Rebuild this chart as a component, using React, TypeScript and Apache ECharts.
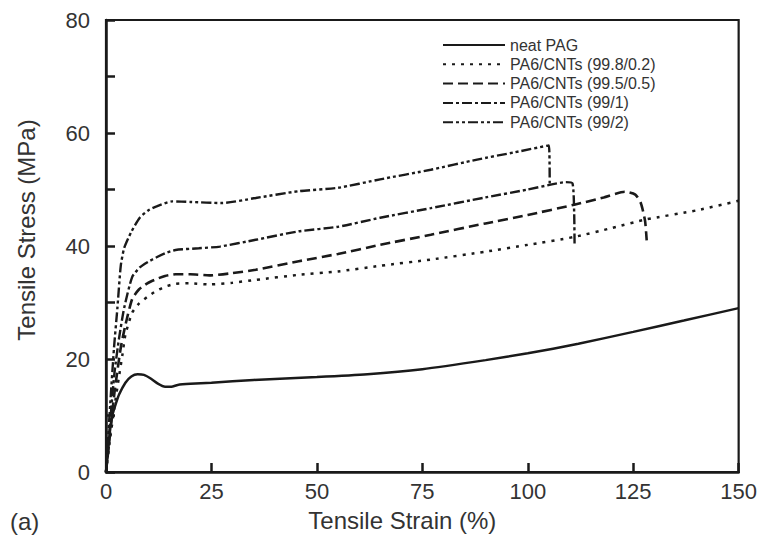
import React, { useEffect, useRef } from "react";
import * as echarts from "echarts";

const seriesNames = [
  "neat PAG",
  "PA6/CNTs (99.8/0.2)",
  "PA6/CNTs (99.5/0.5)",
  "PA6/CNTs (99/1)",
  "PA6/CNTs (99/2)",
];

const strainNeat = [0, 0.4, 0.9, 1.5, 2.3, 3.1, 4.6, 6, 7.5, 9, 10.5, 12.2, 14, 15.5, 17, 20, 25, 35, 50, 62, 75, 90, 100, 112, 125, 137, 150];
const stressNeat = [0, 3, 7, 10, 12, 13.7, 15.8, 16.9, 17.3, 17.2, 16.6, 15.7, 15.1, 15.1, 15.4, 15.6, 15.8, 16.3, 16.8, 17.3, 18.2, 19.8, 21, 22.7, 24.8, 26.8, 29];

const strain02 = [0, 1, 2, 3, 3.9, 4.6, 6.2, 7.8, 9.8, 11.8, 14, 16.5, 20, 24.4, 30, 35.5, 45.7, 55, 65, 77, 90, 100, 111, 120, 128, 140, 150];
const stress02 = [0, 6, 11.5, 16.5, 20.8, 24.3, 28.2, 29.8, 31, 32, 32.8, 33.3, 33.4, 33.2, 33.5, 34, 34.9, 35.5, 36.5, 37.6, 39, 40.2, 41.6, 43.2, 44.7, 46.3, 48];

const strain05 = [0, 1, 2, 3.5, 4.6, 6.2, 7.8, 9.8, 11.8, 14, 16.5, 20, 24.5, 30, 35.5, 45.7, 55, 65, 77, 90, 100, 111, 118, 123, 125.5, 126.8, 127.8, 128.2];
const stress05 = [0, 7, 14, 22, 26, 30.6, 32.3, 33.4, 34.1, 34.7, 35, 35, 34.8, 35.2, 35.8, 37.3, 38.6, 40.2, 42, 44, 45.5, 47.3, 48.6, 49.6, 49.1, 47.6, 44.5, 41];

const strain1 = [0, 1, 2, 3.1, 4.3, 6.2, 8, 10, 12, 14, 16.5, 22, 27, 35.5, 45.7, 55, 65, 77, 90, 100, 105.7, 109, 110.6, 111, 111.1];
const stress1 = [0, 9, 17.5, 23.7, 29, 34.5, 36.2, 37.2, 38, 38.7, 39.3, 39.6, 39.9, 41.1, 42.6, 43.4, 45, 46.7, 48.6, 50, 50.9, 51.3, 51.1, 46, 40];

const strain2 = [0, 1, 1.9, 2.7, 3.5, 4.3, 6, 8, 10, 12, 15.7, 20, 27.5, 35.5, 45.7, 55, 65, 77, 88, 97, 105, 105.2];
const stress2 = [0, 12, 22, 29, 36.5, 39.6, 42.5, 45, 46.3, 47, 47.9, 47.8, 47.6, 48.5, 49.7, 50.3, 51.8, 53.5, 55.3, 56.6, 57.8, 51];

const xTicks = { min: 0, max: 150, interval: 25 };
const yTicks = { min: 0, max: 80, interval: 20 };

const dashes: (number[] | "solid")[] = ["solid", [3, 6], [10, 5], [10, 3, 3, 3], [10, 3, 3, 3, 3, 3]];
const widths = [2.5, 2.5, 2.6, 2.4, 2.4];

const FONT = "'Liberation Sans', Arial, Helvetica, sans-serif";
const INK = "#1a1a1a";
const TXT = "#333";

function pairs(xs: number[], ys: number[]) {
  return xs.map((x, i) => [x, ys[i]]);
}

export default function App() {
  const ref = useRef<HTMLDivElement>(null);
  useEffect(() => {
    if (!ref.current) return;
    const chart = echarts.init(ref.current, undefined, { renderer: "svg" });
    const all = [
      pairs(strainNeat, stressNeat),
      pairs(strain02, stress02),
      pairs(strain05, stress05),
      pairs(strain1, stress1),
      pairs(strain2, stress2),
    ];
    chart.setOption({
      animation: false,
      backgroundColor: "#fff",
      grid: {
        left: 106,
        right: 20,
        top: 20,
        bottom: 63,
        show: true,
        borderColor: INK,
        borderWidth: 2.2,
      },
      legend: {
        orient: "vertical",
        left: 437,
        top: 32,
        itemWidth: 62,
        itemHeight: 14,
        itemGap: 3.3,
        itemStyle: { color: "rgba(0,0,0,0)", borderWidth: 0, opacity: 0 },
        textStyle: { fontFamily: FONT, fontSize: 16, color: TXT },
        data: seriesNames,
      },
      xAxis: {
        type: "value",
        min: xTicks.min,
        max: xTicks.max,
        interval: xTicks.interval,
        name: "Tensile Strain (%)",
        nameLocation: "middle",
        nameGap: 36,
        nameTextStyle: { fontFamily: FONT, fontSize: 24, color: TXT, padding: [0, 40, 0, 0] },
        axisLine: { lineStyle: { color: INK, width: 2.5 } },
        axisTick: { inside: true, length: 9, lineStyle: { color: INK, width: 2.5 } },
        axisLabel: { fontFamily: FONT, fontSize: 22, color: TXT, margin: 8 },
        splitLine: { show: false },
      },
      yAxis: {
        type: "value",
        min: yTicks.min,
        max: yTicks.max,
        interval: yTicks.interval,
        name: "Tensile Stress (MPa)",
        nameLocation: "middle",
        nameGap: 68,
        nameTextStyle: { fontFamily: FONT, fontSize: 24, color: TXT, padding: [0, 0, 0, 32] },
        axisLine: { lineStyle: { color: INK, width: 2.5 } },
        axisTick: { inside: true, length: 9, lineStyle: { color: INK, width: 2.5 } },
        minorTick: { show: true, splitNumber: 2, length: 9, lineStyle: { color: INK, width: 2.5 } },
        axisLabel: { fontFamily: FONT, fontSize: 22, color: TXT, margin: 16 },
        splitLine: { show: false },
        minorSplitLine: { show: false },
      },
      graphic: [
        {
          type: "text",
          left: 10,
          top: 509,
          style: { text: "(a)", fontFamily: FONT, fontSize: 24, fill: TXT },
        },
      ],
      series: seriesNames.map((name, i) => ({
        name,
        type: "line",
        data: all[i],
        symbol: "none",
        smooth: 0.2,
        lineStyle: { color: INK, width: widths[i], type: dashes[i] },
        itemStyle: { color: INK },
      })),
    });
    return () => chart.dispose();
  }, []);
  return <div ref={ref} style={{ width: 760, height: 537, position: "absolute", left: 0, top: 0 }} />;
}
